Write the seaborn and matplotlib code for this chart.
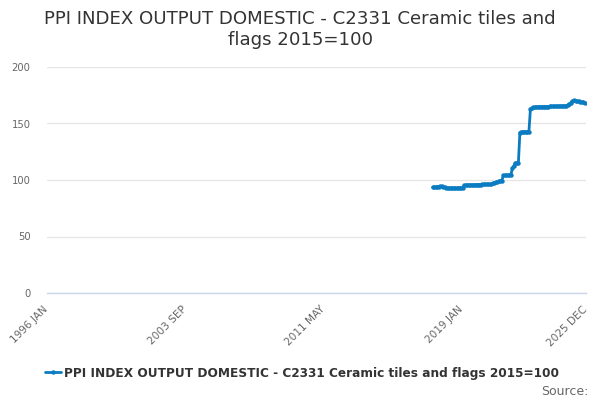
import pandas as pd
import matplotlib
matplotlib.use('Agg')
import matplotlib.pyplot as plt
import seaborn as sns
import numpy as np

# monthly axis 1996 JAN .. 2025 DEC
axis_start = '1996-01'
axis_end = '2025-12'
series_start = '2017-06'
series_name = 'PPI INDEX OUTPUT DOMESTIC - C2331 Ceramic tiles and flags 2015=100'
title = 'PPI INDEX OUTPUT DOMESTIC - C2331 Ceramic tiles and\nflags 2015=100'

values = [93.5, 93.5, 93.8, 94.0, 94.2, 94.4,
          94.4, 94.0, 93.5, 93.2,
          93.0, 93.0, 92.9, 92.8, 92.9, 92.8, 92.8, 93.0, 93.0, 92.9, 93.2,
          95.2, 95.5, 95.5, 95.6, 95.6, 95.6, 95.6, 95.7, 95.7, 96.0,
          96.0, 96.0, 96.1, 96.1, 96.2, 96.2, 96.2, 96.2, 96.3,
          97.0, 97.5, 98.0, 98.5, 99.0, 99.3, 99.5,
          104.0, 104.0, 104.1, 104.2, 104.3, 104.3,
          110.5, 112.5,
          115.0, 115.3, 115.3,
          142.0, 142.5, 142.6, 142.7, 142.7, 142.8, 142.8,
          162.8, 163.5, 164.2,
          164.5, 164.6, 164.7, 164.8, 164.8, 164.9, 164.9, 165.0, 165.0, 165.0,
          165.1, 165.1, 165.2, 165.2, 165.3, 165.3, 165.4, 165.4, 165.5, 165.5, 165.6,
          165.8, 166.5, 167.5, 168.5, 169.5, 170.5, 170.3, 169.8, 169.5, 169.3,
          169.0, 168.8, 168.5]

months = pd.period_range(axis_start, axis_end, freq='M')
series_months = pd.period_range(series_start, periods=len(values), freq='M')
df = pd.DataFrame({'month': series_months, 'value': values})
df['pos'] = [(m - months[0]).n for m in df['month']]

tick_pos = list(range(0, len(months), 23)) + [len(months) - 1]
label_pos = [0, 92, 184, 276, len(months) - 1]
labels = [months[p].strftime('%Y %b').upper() for p in label_pos]

sns.set_style('white')
plt.rcParams['font.family'] = ['DejaVu Sans']

fig = plt.figure(figsize=(6, 4), dpi=100)
ax = fig.add_axes([0.0775, 0.2675, 0.8992, 0.565])

line_color = '#0b7cc1'
sns.lineplot(data=df, x='pos', y='value', ax=ax, color=line_color, linewidth=2.0,
             marker='o', markersize=3.2, markeredgewidth=0, label=series_name)

ax.set_xlim(0, len(months) - 1)
ax.set_ylim(0, 200)
ax.set_yticks([0, 50, 100, 150, 200])
ax.yaxis.grid(True, color='#e6e6e6', linewidth=1)
ax.set_axisbelow(True)
for s in ['top', 'right', 'left']:
    ax.spines[s].set_visible(False)
ax.spines['bottom'].set_color('#ccd6eb')
ax.spines['bottom'].set_linewidth(1)

ax.set_xticks(label_pos)
ax.set_xticklabels(labels, rotation=45, ha='right', va='center', rotation_mode='anchor',
                   color='#666666', fontsize=7.6)
ax.set_xticks([p for p in tick_pos if p not in label_pos], minor=True)
ax.tick_params(axis='x', which='major', length=6.3, color='#ccd6eb', width=1, pad=4.2)
ax.tick_params(axis='x', which='minor', length=6.3, color='#ccd6eb', width=1)
ax.tick_params(axis='y', length=0, labelcolor='#666666', labelsize=7.2, pad=11.5)
ax.set_xlabel('')
ax.set_ylabel('')

fig.suptitle(title, fontsize=13.1, color='#333333', y=0.975)

ax.legend(loc='center', bbox_to_anchor=(0.4736, -0.354), frameon=False,
          prop={'size': 8.7, 'weight': 'bold'}, labelcolor='#333333',
          handlelength=1.3, handletextpad=0.3)
fig.text(0.98, 0.022, 'Source:', ha='right', va='center', color='#666666', fontsize=9)

fig.savefig('out.png', dpi=100)
